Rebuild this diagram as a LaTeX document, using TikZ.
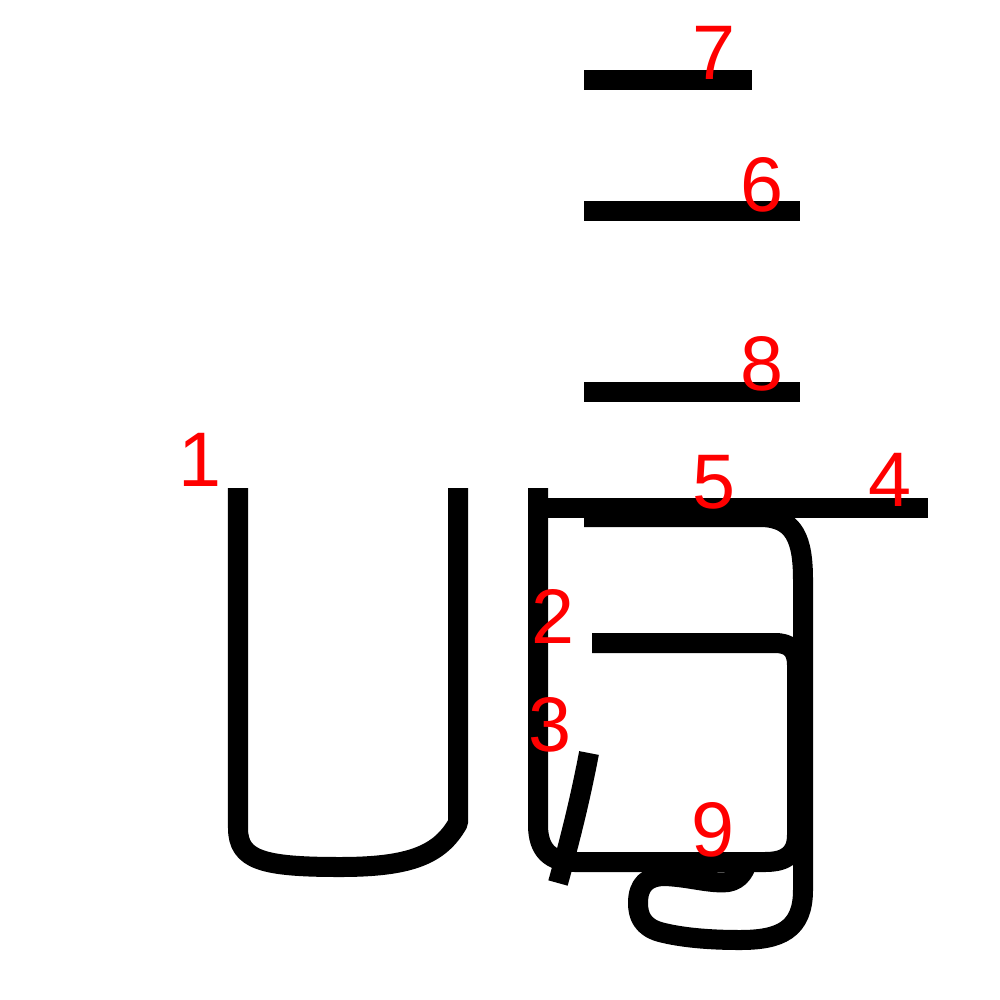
\documentclass[tikz,border=0pt]{standalone}
\usepackage{fontspec}
\setsansfont{Liberation Sans}
\begin{document}
\begin{tikzpicture}[
  x=0.01cm, y=-0.01cm,
  stroke/.style={line width=0.2cm, line cap=butt, line join=round},
  num/.style={font=\sffamily\fontsize{22}{22}\selectfont, text=red, inner sep=0pt}
]
\useasboundingbox (0,0) rectangle (1000,1000);

% Left part
\draw[stroke] (458,488) -- (458,823) .. controls (440,855) and (410,867) .. (340,867)
  .. controls (262,867) and (238,860) .. (238,828) -- (238,488);

% Box
\draw[stroke] (592,643) -- (775,643) .. controls (790,643) and (797,650) .. (797,665)
  -- (797,835) .. controls (797,855) and (785,862) .. (765,862) -- (575,862)
  .. controls (550,862) and (538,850) .. (538,825) -- (538,488);
\draw[stroke] (589,753) .. controls (580,800) and (570,840) .. (558,883);

% Top bar and hook
\draw[stroke] (540,508) -- (928,508);
\draw[stroke] (584,517) -- (760,517) .. controls (795,517) and (803,540) .. (803,580)
  -- (803,890) .. controls (803,930) and (780,940) .. (740,940)
  .. controls (700,940) and (675,936) .. (660,932)
  .. controls (642,927) and (638,915) .. (638,903)
  .. controls (638,884) and (648,876) .. (665,876)
  .. controls (690,877) and (710,884) .. (728,882)
  .. controls (740,880) and (746,870) .. (748,858);

% Upper bars
\draw[stroke] (584,80) -- (752,80);
\draw[stroke] (584,211) -- (800,211);
\draw[stroke] (584,392) -- (800,392);

% Numbers
\node[num] (n1) at (200,460) {1};
\node[num] (n2) at (553,616) {2};
\node[num] (n3) at (550,725) {3};
\node[num] (n4) at (890,480) {4};
\node[num] (n5) at (714,482) {5};
\node[num] (n6) at (762,185) {6};
\node[num] (n7) at (714,53) {7};
\node[num] (n8) at (762,364) {8};
\node[num] (n9) at (713,830) {9};

\end{tikzpicture}
\end{document}
